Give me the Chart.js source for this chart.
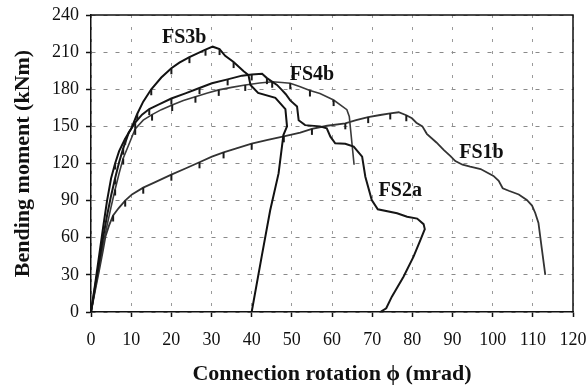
<!DOCTYPE html>
<html>
<head>
<meta charset="utf-8">
<script src="https://cdn.jsdelivr.net/npm/chart.js@4.4.1/dist/chart.umd.min.js"></script>
<style>
  html, body { margin: 0; padding: 0; background: #fff; }
  #wrap { width: 586px; height: 388px; }
</style>
</head>
<body>
<div id="wrap"><canvas id="c" width="586" height="388"></canvas></div>
<script>
// Moment–rotation curves of four flush end-plate connection tests
// rotation in mrad, bending moment in kNm

const fs3bRot    = [0, 1, 2, 3, 4, 5, 6, 7, 8.5, 10, 11.5, 13, 15, 17.5, 20, 22, 24.5, 26.5, 28.5, 30.3, 32, 33.4, 35.5, 38, 39.2, 39.7, 41.6, 45.9, 48.4, 48.8, 47.9, 46.7, 44.6, 42.5, 40];
const fs3bMoment = [0, 22, 45, 68, 90, 108, 120, 130, 140, 148, 160, 170, 180, 189.5, 197, 201.5, 206, 209, 212, 214.4, 212.5, 207, 202, 194.5, 191.5, 183.5, 177, 173, 164, 150, 143, 112, 82, 45, 0];

const fs2aRot    = [0, 1, 2, 3, 4, 5, 6, 7, 8, 9.4, 11, 12.7, 14.5, 16.8, 20, 23.5, 27, 30.1, 34, 37.6, 40, 42.6, 43.8, 46.3, 47.5, 48.5, 49.6, 51.3, 51.7, 53.3, 57, 58.7, 59.6, 60.8, 63.3, 65.4, 67.5, 68.3, 69.9, 71.4, 76.2, 78.7, 81.2, 82.8, 83.1, 82, 80.3, 77.8, 74.9, 73.5, 72];
const fs2aMoment = [0, 20, 40, 60, 78, 94, 108, 121, 132, 145, 153, 159.5, 164, 167.5, 172.5, 176.7, 181, 184.8, 188, 191, 192, 192.5, 189, 183.5, 179.5, 176, 171, 166, 155, 151, 150, 148.4, 141.7, 136.3, 136, 133.6, 125.5, 109.3, 90.5, 83, 79.8, 77, 75.5, 71, 67, 58, 44.7, 28.5, 12.4, 3, 0];

const fs4bRot    = [0, 1, 2, 3, 4, 5, 6, 7, 8, 9.5, 11, 13, 15.2, 17.5, 20.2, 23, 26, 29, 31.8, 35, 38.4, 42, 45.1, 47.5, 49.6, 52.1, 54.5, 57, 60.4, 63.7, 64.3, 65.5];
const fs4bMoment = [0, 18, 36, 54, 70, 85, 99, 112, 124, 136, 148, 155, 159.5, 163.5, 167.3, 171, 174, 177, 179.5, 181.5, 183.5, 185, 186.1, 185.5, 184.8, 182, 179, 176.5, 171.3, 163.5, 158, 119];

const fs1bRot    = [0, 1, 2, 3, 3.6, 4.5, 5.5, 6.9, 8.5, 10.2, 13, 16, 20, 23.5, 27, 30.1, 33, 36, 40, 44, 48, 52.1, 55, 58.8, 63.3, 66, 69, 72, 74.5, 76.6, 78.5, 79.9, 81, 82.5, 83.6, 86, 87.8, 89.5, 90.7, 92.5, 94.4, 97, 100.2, 101.5, 102.5, 104, 106.5, 108.5, 109.8, 110.6, 111.4, 112.2, 113.1];
const fs1bMoment = [0, 17, 33, 50, 61, 70, 78, 84, 90, 95, 100.5, 105, 111, 116, 121, 125.5, 129, 132, 136, 139, 142, 145, 148, 150.5, 152.5, 155, 157.5, 159.2, 160.5, 161.4, 159, 156.5, 153, 150, 144, 137, 131, 126, 122, 119, 117.4, 115.5, 110, 106, 100, 98, 95, 90.5, 86, 80, 72, 52, 30];

const seriesNames = ['FS3b', 'FS2a', 'FS4b', 'FS1b'];
// label anchor points (rotation, moment) for the series names
const labelRot    = [23.2, 77, 55, 97.2];
const labelMoment = [221.4, 97.8, 191.5, 128.5];

const toPoints = (xs, ys) => xs.map((x, i) => ({ x: x, y: ys[i] }));

const serif = '"Liberation Serif", "Times New Roman", serif';

// small reading mark hanging under a recorded point
const readingMark = document.createElement('canvas');
readingMark.width = 4;
readingMark.height = 14;
(function () {
  const g = readingMark.getContext('2d');
  g.fillStyle = '#1a1a1a';
  g.fillRect(1, 7, 2, 6);
})();

// marks only on the loading branch, every second recorded point
const markRadius = (lastIdx) => (ctx) => {
  const i = ctx.dataIndex;
  return (i >= 6 && i <= lastIdx && i % 2 === 0) ? 3 : 0;
};

// names drawn next to each curve
const curveLabels = {
  id: 'curveLabels',
  afterDatasetsDraw(chart) {
    const { ctx, scales: { x, y } } = chart;
    ctx.save();
    ctx.font = 'bold 20px ' + serif;
    ctx.fillStyle = '#111';
    ctx.textAlign = 'center';
    ctx.textBaseline = 'middle';
    seriesNames.forEach((name, i) => {
      ctx.fillText(name, x.getPixelForValue(labelRot[i]), y.getPixelForValue(labelMoment[i]));
    });
    ctx.restore();
  }
};

// closes the plot frame on the top and right sides
const plotFrame = {
  id: 'plotFrame',
  afterDraw(chart) {
    const { ctx, chartArea: a } = chart;
    ctx.save();
    ctx.strokeStyle = '#111';
    ctx.lineWidth = 1.5;
    ctx.beginPath();
    ctx.moveTo(a.left, a.top);
    ctx.lineTo(a.right, a.top);
    ctx.lineTo(a.right, a.bottom);
    ctx.stroke();
    ctx.restore();
  }
};

const lineStyle = (color, width, lastMark) => ({
  borderColor: color,
  borderWidth: width,
  pointStyle: readingMark,
  pointRadius: markRadius(lastMark),
  pointBorderWidth: 0,
  tension: 0,
  fill: false,
  showLine: true
});

new Chart(document.getElementById('c'), {
  type: 'scatter',
  data: {
    datasets: [
      Object.assign({ label: 'FS3b', data: toPoints(fs3bRot, fs3bMoment) }, lineStyle('#111', 2, 22)),
      Object.assign({ label: 'FS2a', data: toPoints(fs2aRot, fs2aMoment) }, lineStyle('#161616', 2, 22)),
      Object.assign({ label: 'FS4b', data: toPoints(fs4bRot, fs4bMoment) }, lineStyle('#3a3a3a', 1.6, 28)),
      Object.assign({ label: 'FS1b', data: toPoints(fs1bRot, fs1bMoment) }, lineStyle('#333', 1.8, 30))
    ]
  },
  options: {
    responsive: false,
    animation: false,
    devicePixelRatio: 1,
    layout: { padding: { top: 15, right: 13, left: 0, bottom: 0 } },
    plugins: {
      legend: { display: false },
      tooltip: { enabled: false }
    },
    scales: {
      x: {
        type: 'linear',
        min: 0,
        max: 120,
        afterFit(scale) {
          scale.height = 76;
          scale.paddingLeft = 0;
          scale.paddingRight = 0;
        },
        ticks: {
          stepSize: 10,
          color: '#111',
          font: { family: serif, size: 18 },
          padding: 12,
          maxRotation: 0,
          autoSkip: false
        },
        grid: {
          display: true,
          drawOnChartArea: true,
          drawTicks: true,
          color: '#9a9a9a',
          lineWidth: 1,
          tickLength: 5,
          tickColor: '#111',
          tickWidth: 1.5,
          tickBorderDash: []
        },
        border: { display: true, color: '#111', width: 1.5, dash: [3, 9] },
        title: {
          display: true,
          text: 'Connection rotation \u03D5 (mrad)',
          color: '#111',
          font: { family: serif, size: 22, weight: 'bold' },
          padding: { top: 0, bottom: 0 }
        }
      },
      y: {
        type: 'linear',
        min: 0,
        max: 240,
        afterFit(scale) {
          scale.width = 91;
          scale.paddingTop = 0;
          scale.paddingBottom = 0;
        },
        ticks: {
          stepSize: 30,
          color: '#111',
          font: { family: serif, size: 18 },
          padding: 7,
          autoSkip: false
        },
        grid: {
          display: true,
          drawOnChartArea: true,
          drawTicks: true,
          color: '#8a8a8a',
          lineWidth: 1,
          tickLength: 5,
          tickColor: '#111',
          tickWidth: 1.5,
          tickBorderDash: []
        },
        border: { display: true, color: '#111', width: 1.5, dash: [4, 8] },
        title: {
          display: true,
          text: 'Bending moment (kNm)',
          color: '#111',
          font: { family: serif, size: 22, weight: 'bold' },
          padding: { top: 10, bottom: 0 }
        }
      }
    }
  },
  plugins: [curveLabels, plotFrame]
});
</script>
</body>
</html>
